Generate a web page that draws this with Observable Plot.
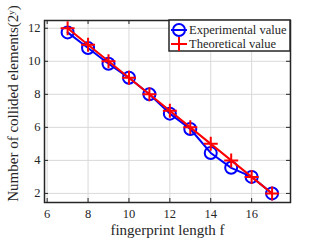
<!DOCTYPE html>
<html>
<head>
<meta charset="utf-8">
<script src="https://cdn.jsdelivr.net/npm/d3@7"></script>
<script src="https://cdn.jsdelivr.net/npm/@observablehq/plot@0.6"></script>
<style>
  body { margin: 0; background: white; }
</style>
</head>
<body>
<div id="chart"></div>
<script>
const fLength = [7, 8, 9, 10, 11, 12, 13, 14, 15, 16, 17];
const experimental = [11.75, 10.8, 9.85, 9.0, 8.0, 6.83, 5.9, 4.45, 3.55, 3.0, 2.0];
const theoretical = [12, 11, 10, 9, 8, 7, 6, 5, 4, 3, 2];
const xTicks = [6, 8, 10, 12, 14, 16];
const yTicks = [2, 4, 6, 8, 10, 12];
const seriesNames = ["Experimental value", "Theoretical value"];
const xLabel = "fingerprint length f";
const yLabel = "Number of collided elements(2ʸ)";

const BLUE = "#0000ff", RED = "#ff0000", FRAME = "#262626";
const W = 319, H = 242, ML = 44, MR = 29, MT = 20, MB = 40;
const PW = W - ML - MR, PH = H - MT - MB;

const plusSymbol = {
  draw(context, size) {
    const h = Math.sqrt(size / Math.PI);
    context.moveTo(-h, 0); context.lineTo(h, 0);
    context.moveTo(0, -h); context.lineTo(0, h);
  }
};

const expData = fLength.map((f, i) => ({f, v: experimental[i]}));
const theoData = fLength.map((f, i) => ({f, v: theoretical[i]}));

function legend(index, scales, values, dims) {
  const g = d3.create("svg:g").attr("text-anchor", "start");
  const right = dims.width - dims.marginRight;
  const top = dims.marginTop;
  const bw = 121, bh = 31;
  const left = right - bw;
  g.append("rect").attr("x", left).attr("y", top).attr("width", bw).attr("height", bh)
    .attr("fill", "white").attr("stroke", FRAME).attr("stroke-width", 1.5);
  const rows = [top + 10, top + 24];
  const mx = left + 10;
  g.append("line").attr("x1", mx - 8).attr("x2", mx + 8).attr("y1", rows[0]).attr("y2", rows[0])
    .attr("stroke", BLUE).attr("stroke-width", 2);
  g.append("circle").attr("cx", mx).attr("cy", rows[0]).attr("r", 6)
    .attr("fill", "none").attr("stroke", BLUE).attr("stroke-width", 2);
  g.append("line").attr("x1", mx - 8).attr("x2", mx + 8).attr("y1", rows[1]).attr("y2", rows[1])
    .attr("stroke", RED).attr("stroke-width", 2);
  g.append("line").attr("x1", mx).attr("x2", mx).attr("y1", rows[1] - 7).attr("y2", rows[1] + 7)
    .attr("stroke", RED).attr("stroke-width", 2);
  seriesNames.forEach((name, i) => {
    g.append("text").attr("x", left + 20).attr("y", rows[i]).attr("dy", "0.35em")
      .attr("text-anchor", "start")
      .attr("font-size", 12.5).attr("fill", "#262626").text(name);
  });
  return g.node();
}

const chart = Plot.plot({
  width: W, height: H,
  marginLeft: ML, marginRight: MR, marginTop: MT, marginBottom: MB,
  style: {fontFamily: "'Liberation Serif', 'Times New Roman', serif", fontSize: "12.5px", color: "#262626", background: "white"},
  x: {domain: [5.87, 17.9]},
  y: {domain: [1.45, 12.47]},
  marks: [
    Plot.gridX(xTicks, {stroke: "#d9d9d9", strokeOpacity: 1}),
    Plot.gridY(yTicks, {stroke: "#d9d9d9", strokeOpacity: 1}),
    Plot.tickX(xTicks, {x: d => d, stroke: FRAME, insetTop: PH - 4}),
    Plot.tickX(xTicks, {x: d => d, stroke: FRAME, insetBottom: PH - 4}),
    Plot.tickY(yTicks, {y: d => d, stroke: FRAME, insetRight: PW - 4}),
    Plot.tickY(yTicks, {y: d => d, stroke: FRAME, insetLeft: PW - 4}),
    Plot.axisX(xTicks, {tickSize: 0, tickPadding: 7, label: null, fill: "#262626"}),
    Plot.axisY(yTicks, {tickSize: 0, tickPadding: 4, label: null, fill: "#262626"}),
    Plot.frame({stroke: FRAME, strokeWidth: 1.5}),
    Plot.line(expData, {x: "f", y: "v", stroke: BLUE, strokeWidth: 2}),
    Plot.dot(expData, {x: "f", y: "v", r: 6, stroke: BLUE, strokeWidth: 2, fill: "none"}),
    Plot.line(theoData, {x: "f", y: "v", stroke: RED, strokeWidth: 2}),
    Plot.dot(theoData, {x: "f", y: "v", r: 7, symbol: plusSymbol, stroke: RED, strokeWidth: 2, fill: "none"}),
    Plot.text([xLabel], {frameAnchor: "bottom", lineAnchor: "middle", dy: 28, fontSize: 15, fill: "#262626"}),
    Plot.text([yLabel], {frameAnchor: "left", lineAnchor: "middle", textAnchor: "middle", rotate: -90, dx: -31, dy: -8, fontSize: 15, fill: "#262626"}),
    legend
  ]
});
document.getElementById("chart").appendChild(chart);
</script>
</body>
</html>
